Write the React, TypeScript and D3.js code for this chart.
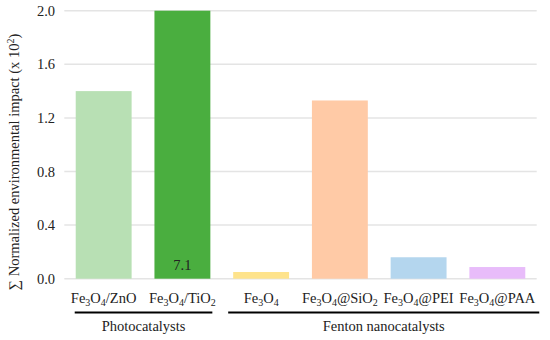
import React from 'react';
import * as d3 from 'd3';

// categories (base, suffix rendered with subscripts)
const categories = ['ZnO', 'TiO2', 'Fe3O4', 'SiO2', 'PEI', 'PAA'];
const labelParts: [string, boolean][][] = [
  [['Fe', false], ['3', true], ['O', false], ['4', true], ['/ZnO', false]],
  [['Fe', false], ['3', true], ['O', false], ['4', true], ['/TiO', false], ['2', true]],
  [['Fe', false], ['3', true], ['O', false], ['4', true]],
  [['Fe', false], ['3', true], ['O', false], ['4', true], ['@SiO', false], ['2', true]],
  [['Fe', false], ['3', true], ['O', false], ['4', true], ['@PEI', false]],
  [['Fe', false], ['3', true], ['O', false], ['4', true], ['@PAA', false]],
];
const values = [1.4, 7.1, 0.05, 1.33, 0.16, 0.087];
const colors = ['#b8e0b4', '#4aae3f', '#fee38c', '#ffcaa6', '#b4d6ee', '#e8bcfa'];
const yTicks = [0, 0.4, 0.8, 1.2, 1.6, 2.0];
const groups = [
  { name: 'Photocatalysts', from: 'ZnO', to: 'TiO2' },
  { name: 'Fenton nanocatalysts', from: 'Fe3O4', to: 'PAA' },
];

const W = 550;
const H = 340;
const FONT = "'Liberation Serif', 'DejaVu Serif', serif";

export default function App() {
  const x = d3.scaleBand().domain(categories).range([64.3, 536.7]).paddingInner(0.29).paddingOuter(0.145);
  const y = d3.scaleLinear().domain([0, 2]).range([278.7, 10.7]);
  const bw = x.bandwidth();

  return (
    <svg width={W} height={H} style={{ position: 'absolute', left: 0, top: 0, background: '#fff', fontFamily: FONT }}>
      {yTicks.map((t) => (
        <g key={t}>
          <line x1={64.3} x2={536.7} y1={y(t)} y2={y(t)} stroke="#e4e4e4" strokeWidth={1.5} />
          <text x={55} y={y(t)} dy="0.35em" textAnchor="end" fontSize={14.5} fill="#222">
            {t.toFixed(1)}
          </text>
        </g>
      ))}
      {categories.map((c, i) => {
        const v = Math.min(values[i], 2);
        return (
          <rect key={c} x={x(c)} y={y(v)} width={bw} height={y(0) - y(v)} fill={colors[i]} />
        );
      })}
      {/* value label on the clipped bar */}
      <text x={(x('TiO2') as number) + bw / 2} y={270} textAnchor="middle" fontSize={14.5} fill="#222">
        {values[1].toFixed(1)}
      </text>
      {categories.map((c, i) => (
        <text key={c} x={(x(c) as number) + bw / 2} y={303} textAnchor="middle" fontSize={14.5} fill="#222">
          {labelParts[i].map(([s, sub], j) => (
            <tspan key={j} fontSize={sub ? 10 : 14.5} dy={sub ? 3 : j > 0 && labelParts[i][j - 1][1] ? -3 : 0}>
              {s}
            </tspan>
          ))}
        </text>
      ))}
      {groups.map((g, i) => {
        const x1 = (x(g.from) as number) - (i === 0 ? 1 : 5);
        const x2 = (x(g.to) as number) + bw + (i === 0 ? 2 : 14);
        return (
          <g key={g.name}>
            <line x1={x1} x2={x2} y1={312.5} y2={312.5} stroke="#000" strokeWidth={1.8} />
            <text x={(x1 + x2) / 2} y={331} textAnchor="middle" fontSize={14.5} fill="#222">
              {g.name}
            </text>
          </g>
        );
      })}
      <text
        transform={`translate(19,${162}) rotate(-90)`}
        textAnchor="middle"
        fontSize={14.5}
        fill="#222"
      >
        ∑ Normalized environmental impact (x 10
        <tspan fontSize={10} dy={-5}>2</tspan>
        <tspan dy={5}>)</tspan>
      </text>
    </svg>
  );
}
